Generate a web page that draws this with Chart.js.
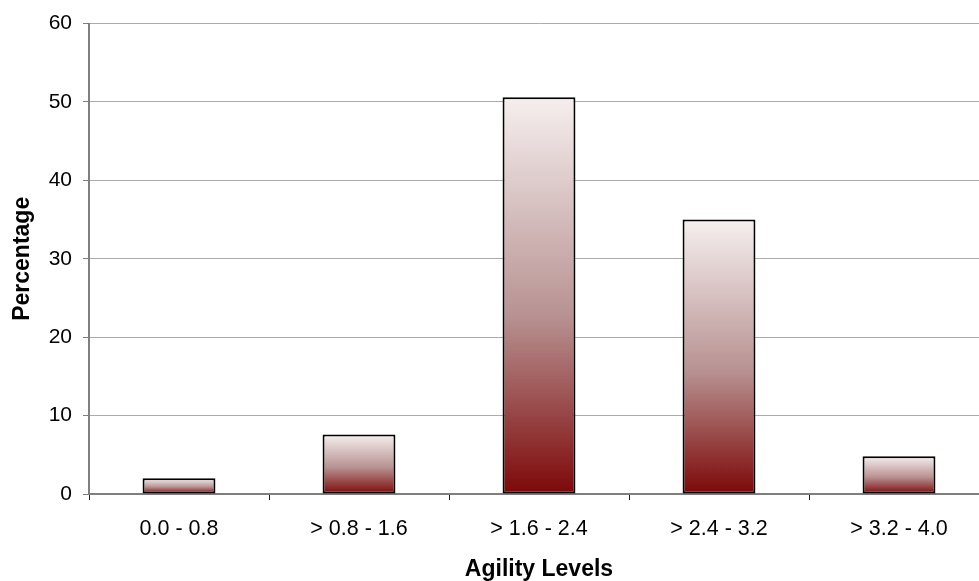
<!DOCTYPE html>
<html>
<head>
<meta charset="utf-8">
<script src="https://cdn.jsdelivr.net/npm/chart.js@4/dist/chart.umd.min.js"></script>
<style>
  html, body { margin: 0; padding: 0; overflow: hidden; background: #fff; }
  #wrap { width: 990px; height: 581px; position: relative; }
</style>
</head>
<body>
<div id="wrap"><canvas id="chart"></canvas></div>
<script>
// categories and values
const categories = ['0.0 - 0.8', '> 0.8 - 1.6', '> 1.6 - 2.4', '> 2.4 - 3.2', '> 3.2 - 4.0'];
const percentages = [2.0, 7.6, 50.6, 35.0, 4.8];
const yTicks = [0, 10, 20, 30, 40, 50, 60];

// dark red at the bottom of every bar, nearly white at its top
function barGradient(context) {
    const chart = context.chart;
    if (!chart.chartArea || context.raw === undefined) return '#c8a0a0';
    const y = chart.scales.y;
    const base = y.getPixelForValue(0);
    const top = y.getPixelForValue(context.raw);
    const g = chart.ctx.createLinearGradient(0, base, 0, top);
    g.addColorStop(0, 'rgb(125,8,8)');
    g.addColorStop(0.45, 'rgb(184,146,146)');
    g.addColorStop(1, 'rgb(246,239,239)');
    return g;
}

new Chart(document.getElementById('chart'), {
    type: 'bar',
    data: {
        labels: categories,
        datasets: [{
            data: percentages,
            backgroundColor: barGradient,
            borderColor: '#000',
            borderWidth: 2,
            borderSkipped: false,
            categoryPercentage: 1,
            barPercentage: 0.405
        }]
    },
    options: {
        responsive: true,
        maintainAspectRatio: false,
        animation: false,
        layout: { padding: { top: 15, right: 1, left: 0, bottom: 0 } },
        plugins: { legend: { display: false }, tooltip: { enabled: false } },
        scales: {
            x: {
                grid: { offset: true, drawOnChartArea: false, drawTicks: true, tickLength: 6, color: '#222' },
                border: { color: '#7f7f7f', width: 2 },
                ticks: { color: '#000', padding: 16, font: { family: 'Liberation Sans, Arial', size: 21.5 } },
                title: { display: true, text: 'Agility Levels', color: '#000', padding: { top: 0, bottom: 0 },
                         font: { family: 'Liberation Sans, Arial', size: 23, weight: 'bold', lineHeight: 1 } },
                afterFit: s => { s.height = 87; }
            },
            y: {
                min: 0, max: 60,
                afterBuildTicks: s => { s.ticks = yTicks.map(v => ({ value: v })); },
                grid: { color: '#ababab', lineWidth: 1, tickLength: 6, tickColor: '#7f7f7f' },
                border: { color: '#7f7f7f', width: 2 },
                ticks: { color: '#000', padding: 11, font: { family: 'Liberation Sans, Arial', size: 21 } },
                title: { display: true, text: 'Percentage', color: '#000', padding: { top: 11, bottom: 0 },
                         font: { family: 'Liberation Sans, Arial', size: 23, weight: 'bold', lineHeight: 1 } },
                afterFit: s => { s.width = 89; }
            }
        }
    }
});
</script>
</body>
</html>
